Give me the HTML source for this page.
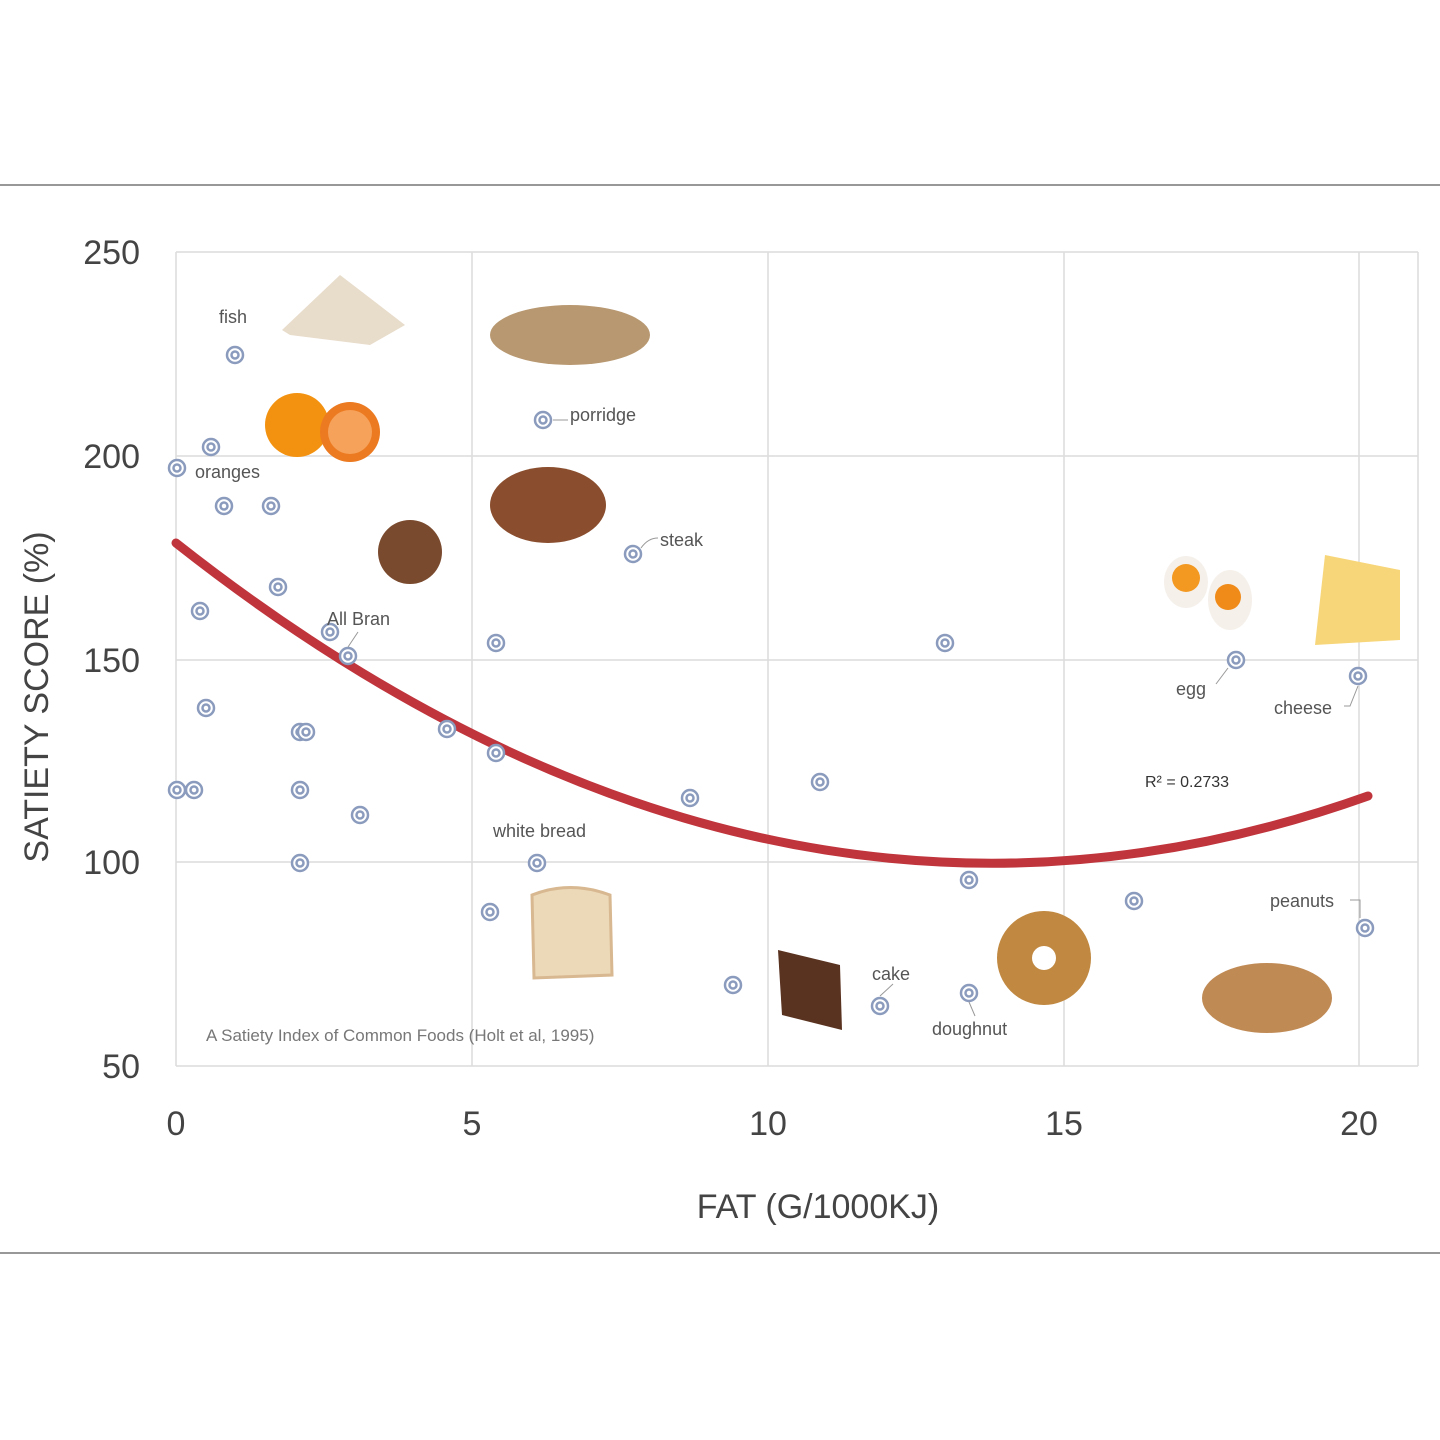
<!DOCTYPE html>
<html><head><style>
body{margin:0;background:#fff;}
svg{display:block}
text{font-family:"Liberation Sans",sans-serif;}
</style></head><body>
<svg width="1440" height="1440" viewBox="0 0 1440 1440">
<rect width="1440" height="1440" fill="#fff"/>
<line x1="0" y1="185" x2="1440" y2="185" stroke="#777" stroke-width="1.5"/>
<line x1="0" y1="1253" x2="1440" y2="1253" stroke="#777" stroke-width="1.5"/>
<g stroke="#dcdcdc" stroke-width="1.5">
<line x1="176" y1="252" x2="1418" y2="252"/><line x1="176" y1="456" x2="1418" y2="456"/>
<line x1="176" y1="660" x2="1418" y2="660"/><line x1="176" y1="862" x2="1418" y2="862"/>
<line x1="176" y1="1066" x2="1418" y2="1066"/>
<line x1="176" y1="252" x2="176" y2="1066"/><line x1="472" y1="252" x2="472" y2="1066"/>
<line x1="768" y1="252" x2="768" y2="1066"/><line x1="1064" y1="252" x2="1064" y2="1066"/>
<line x1="1359" y1="252" x2="1359" y2="1066"/><line x1="1418" y1="252" x2="1418" y2="1066"/>
</g>
<g fill="#444" font-size="34" text-anchor="end">
<text x="140" y="264">250</text><text x="140" y="468">200</text><text x="140" y="672">150</text>
<text x="140" y="874">100</text><text x="140" y="1078">50</text></g>
<g fill="#444" font-size="34" text-anchor="middle">
<text x="176" y="1135">0</text><text x="472" y="1135">5</text><text x="768" y="1135">10</text>
<text x="1064" y="1135">15</text><text x="1359" y="1135">20</text>
<text x="818" y="1218">FAT (G/1000KJ)</text></g>
<text transform="translate(48,697) rotate(-90)" text-anchor="middle" font-size="34" fill="#444">SATIETY SCORE (%)</text>
<path d="M282 330 L340 275 L405 325 L370 345 L290 335Z" fill="#e8dccb"/>
<ellipse cx="570" cy="335" rx="80" ry="30" fill="#b89870"/>
<circle cx="297" cy="425" r="32" fill="#f39210"/><circle cx="350" cy="432" r="30" fill="#ec7a20"/><circle cx="350" cy="432" r="22" fill="#f6a25a"/>
<ellipse cx="548" cy="505" rx="58" ry="38" fill="#8a4e2e"/>
<circle cx="410" cy="552" r="32" fill="#7a4a2e"/>
<ellipse cx="1186" cy="582" rx="22" ry="26" fill="#f5f0ea"/><circle cx="1186" cy="578" r="14" fill="#f39820"/>
<ellipse cx="1230" cy="600" rx="22" ry="30" fill="#f5f0ea"/><circle cx="1228" cy="597" r="13" fill="#f08a18"/>
<path d="M1325 555 L1400 570 L1400 640 L1315 645Z" fill="#f7d67a"/>
<path d="M532 895 Q570 880 610 895 L612 975 L534 978Z" fill="#ecd9b8" stroke="#d8b890" stroke-width="3"/>
<path d="M778 950 L840 965 L842 1030 L782 1015Z" fill="#5a3220"/>
<circle cx="1044" cy="958" r="47" fill="#c08840"/><circle cx="1044" cy="958" r="12" fill="#fff"/>
<ellipse cx="1267" cy="998" rx="65" ry="35" fill="#c08a55"/>
<path d="M176 543 Q768 1010 1368 796" fill="none" stroke="#c0343c" stroke-width="9" stroke-linecap="round"/>
<defs><g id="mk"><circle r="8" fill="#fff" stroke="#8a9bbd" stroke-width="2.5"/><circle r="3.5" fill="none" stroke="#8a9bbd" stroke-width="2.5"/></g></defs>
<g>
<use href="#mk" x="235" y="355"/><use href="#mk" x="211" y="447"/><use href="#mk" x="177" y="468"/>
<use href="#mk" x="224" y="506"/><use href="#mk" x="271" y="506"/><use href="#mk" x="278" y="587"/>
<use href="#mk" x="200" y="611"/><use href="#mk" x="330" y="632"/><use href="#mk" x="348" y="656"/>
<use href="#mk" x="206" y="708"/><use href="#mk" x="300" y="732"/><use href="#mk" x="306" y="732"/>
<use href="#mk" x="447" y="729"/><use href="#mk" x="177" y="790"/><use href="#mk" x="194" y="790"/>
<use href="#mk" x="300" y="790"/><use href="#mk" x="360" y="815"/><use href="#mk" x="300" y="863"/>
<use href="#mk" x="543" y="420"/><use href="#mk" x="633" y="554"/><use href="#mk" x="496" y="643"/>
<use href="#mk" x="496" y="753"/><use href="#mk" x="690" y="798"/><use href="#mk" x="537" y="863"/>
<use href="#mk" x="490" y="912"/><use href="#mk" x="733" y="985"/><use href="#mk" x="820" y="782"/>
<use href="#mk" x="945" y="643"/><use href="#mk" x="969" y="880"/><use href="#mk" x="880" y="1006"/>
<use href="#mk" x="969" y="993"/><use href="#mk" x="1134" y="901"/><use href="#mk" x="1236" y="660"/>
<use href="#mk" x="1358" y="676"/><use href="#mk" x="1365" y="928"/>
</g>
<g stroke="#999" stroke-width="1" fill="none">
<path d="M553 420 H568"/><path d="M641 548 Q648 538 658 538"/><path d="M348 647 L358 632"/>
<path d="M1228 668 L1216 684"/><path d="M1358 686 L1350 706 H1344"/><path d="M1350 900 H1360 V918"/>
<path d="M880 996 L893 984"/><path d="M969 1002 L975 1016"/>
</g>
<g fill="#555" font-size="18">
<text x="219" y="323">fish</text><text x="195" y="478">oranges</text><text x="570" y="421">porridge</text>
<text x="660" y="546">steak</text><text x="327" y="625">All Bran</text><text x="493" y="837">white bread</text>
<text x="872" y="980">cake</text><text x="932" y="1035">doughnut</text><text x="1176" y="695">egg</text>
<text x="1274" y="714">cheese</text><text x="1270" y="907">peanuts</text>
<text x="1145" y="787" font-size="16" fill="#333">R² = 0.2733</text>
<text x="206" y="1041" font-size="17" fill="#777">A Satiety Index of Common Foods (Holt et al, 1995)</text>
</g>
</svg>
</body></html>
